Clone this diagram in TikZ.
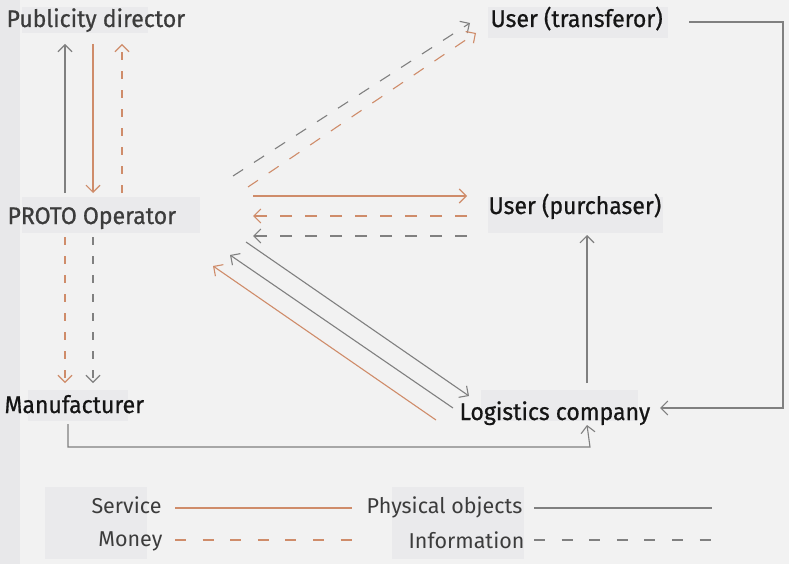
\documentclass[tikz,border=0pt]{standalone}
\usepackage{fontspec}
\setmainfont{Fira Sans}
\newfontfamily\partyfont{Fira Sans}[FakeBold=0.7, FakeStretch=0.96]
\newfontfamily\keyfont{Fira Sans}
\usetikzlibrary{arrows.meta,positioning}

\definecolor{bgcol}{HTML}{F2F2F2}
\definecolor{stripcol}{HTML}{E8E8EA}
\definecolor{platecol}{HTML}{EAEAEC}
\definecolor{svccol}{HTML}{CF8C6A}
\definecolor{objcol}{HTML}{808080}
\definecolor{labcol}{HTML}{151515}
\definecolor{softcol}{HTML}{3C3C3C}

\begin{document}
\begin{tikzpicture}
[x=1pt, y=-1pt, line width=1.1pt, >={Straight Barb[length=7pt,width=14pt]},
party/.style={anchor=base west, inner sep=0pt, text=labcol, font=\partyfont\fontsize{24}{24}\selectfont},
keytext/.style={anchor=base east, inner sep=0pt, text=softcol, font=\keyfont\fontsize{21.5}{21.5}\selectfont},
plate/.style={fill=platecol, draw=none},
service/.style={draw=svccol},
money/.style={draw=svccol, dash pattern=on 12pt off 13pt},
physical/.style={draw=objcol},
info/.style={draw=objcol, dash pattern=on 12pt off 13pt},
shortdash/.style={dash pattern=on 8pt off 11pt},
keydash/.style={dash pattern=on 11pt off 16.6pt}]

% background and plates
\fill[bgcol] (0,0) rectangle (789,564);
\fill[stripcol] (0,0) rectangle (20,564);
\fill[plate] (22,7) rectangle (148,33);
\fill[plate] (22,197) rectangle (200,233);
\fill[plate] (28,390) rectangle (128,421);
\fill[plate] (488,7) rectangle (668,38);
\fill[plate] (488,197) rectangle (663,233);
\fill[plate] (481,390) rectangle (638,421);
\fill[plate] (45,487) rectangle (147,559);
\fill[plate] (392,487) rectangle (524,559);

% parties
\node[party, text=softcol] (pub) at (6,27) {Publicity director};
\node[party, text=softcol] (oper) at (7,224) {PROTO Operator};
\node[party] (manu) at (4,413) {Manufacturer};
\node[party] (tran) at (490,27) {User (transferor)};
\node[party] (purc) at (488,214) {User (purchaser)};
\node[party] (logi) at (459,420) {Logistics company};

% end points of the flows
\foreach \n/\x/\y in {pubA/65/44, opA/65/193, pubB/93/44, opB/93/193, pubC/122/44, opC/122/193,
  opD/65/237, manD/65/383, opE/93/237, manE/93/383,
  opF/233/176, trF/470/23, opG/248/187, trG/476/33,
  opH/253/196, puH/467/196, opI/253/216, puI/467/216, opJ/253/236, puJ/467/236,
  opK/246/242, loK/469/396, opL/230/255, loL/453/408, opM/213/266, loM/436/420,
  loN/587/383, puN/587/235, maO/68/424, loO/587/425, trP/689/22, loP/660/408} {
  \coordinate (\n) at (\x,\y);
}

\draw[physical,->] (opA) -- (pubA);
\draw[service,->] (pubB) -- (opB);
\draw[money,shortdash,->] (opC) -- (pubC);
\draw[money,shortdash,->] (opD) -- (manD);
\draw[info,shortdash,->] (opE) -- (manE);

\draw[info,->] (opF) -- (trF);
\draw[money,->] (opG) -- (trG);

\draw[service,->] (opH) -- (puH);
\draw[money,->] (puI) -- (opI);
\draw[info,->] (puJ) -- (opJ);

\draw[physical,->] (opK) -- (loK);
\draw[physical,->] (loL) -- (opL);
\draw[service,->] (loM) -- (opM);

\draw[physical,->] (loN) -- (puN);
\draw[physical,->] (maO) |- (590,447) -- (loO);
\draw[physical,->] (trP) -| (783,408) -- (loP);

% legend
\node[keytext] (kserv) at (162,513) {Service};
\node[keytext] (kmoney) at (163,546) {Money};
\node[keytext] (kphys) at (523,513) {Physical objects};
\node[keytext] (kinfo) at (525,548) {Information};
\draw[service] (175,508) -- (352,508);
\draw[money,keydash] (175,540) -- (352,540);
\draw[physical] (534,508) -- (712,508);
\draw[info,keydash] (534,540) -- (712,540);
\end{tikzpicture}
\end{document}
